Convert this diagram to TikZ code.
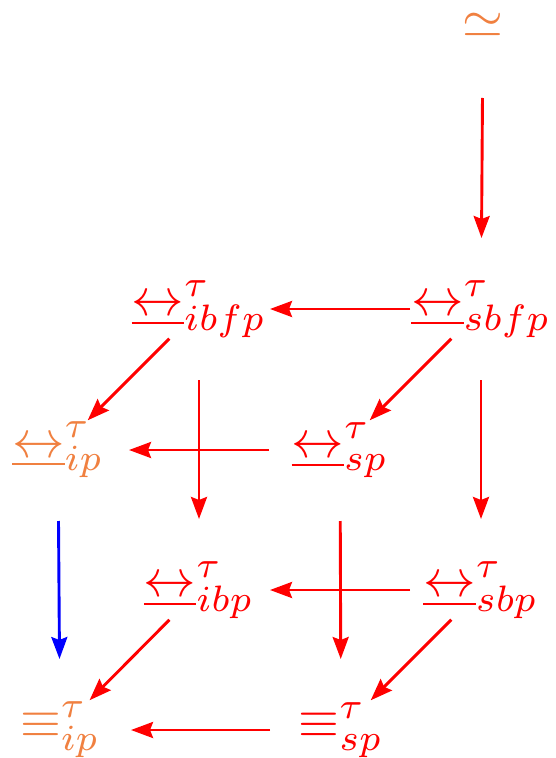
\documentclass[tikz,border=0pt]{standalone}
\usetikzlibrary{arrows.meta}
\definecolor{lorange}{RGB}{240,128,64}
\newcommand{\ulr}{\mathrel{\underline{\leftrightarrow}}}
\begin{document}
\begin{tikzpicture}[x=1pt,y=-1pt,
  lbl/.style={inner sep=0pt,scale=5.25},
  arr/.style={line width=2.9pt,-{Stealth[length=22pt,width=16pt,inset=3pt]}},
  hv/.style={arr,shorten <=71pt,shorten >=71pt},
  dg/.style={arr,shorten <=42pt,shorten >=42pt}]
\useasboundingbox (0,0) rectangle (555,758);
% nodes
\node[lbl,text=lorange] (top) at (483,25) {$\simeq$};
\node[lbl,text=red] (ibfp) at (199,309) {$\ulr^{\tau}_{ibfp}$};
\node[lbl,text=red] (sbfp) at (481,309) {$\ulr^{\tau}_{sbfp}$};
\node[lbl,text=lorange] (ip) at (58,450) {$\ulr^{\tau}_{ip}$};
\node[lbl,text=red] (sp) at (340,450) {$\ulr^{\tau}_{sp}$};
\node[lbl,text=red] (ibp) at (199,590) {$\ulr^{\tau}_{ibp}$};
\node[lbl,text=red] (sbp) at (481,590) {$\ulr^{\tau}_{sbp}$};
\node[lbl,text=lorange] (eip) at (60,730) {$\equiv^{\tau}_{ip}$};
\node[lbl,text=red] (esp) at (341,730) {$\equiv^{\tau}_{sp}$};
% connectors
\draw[hv,red,shorten <=73pt] (top.center) -- (sbfp.center);
\draw[hv,red] (sbfp.center) -- (ibfp.center);
\draw[hv,red] (sp.center) -- (ip.center);
\draw[hv,red] (sbp.center) -- (ibp.center);
\draw[hv,red] (esp.center) -- (eip.center);
\draw[hv,red] (ibfp.center) -- (ibp.center);
\draw[hv,red] (sbfp.center) -- (sbp.center);
\draw[hv,red] (sp.center) -- (esp.center);
\draw[hv,blue] (ip.center) -- (eip.center);
\draw[dg,red] (ibfp.center) -- (ip.center);
\draw[dg,red] (sbfp.center) -- (sp.center);
\draw[dg,red] (ibp.center) -- (eip.center);
\draw[dg,red] (sbp.center) -- (esp.center);
\end{tikzpicture}
\end{document}
